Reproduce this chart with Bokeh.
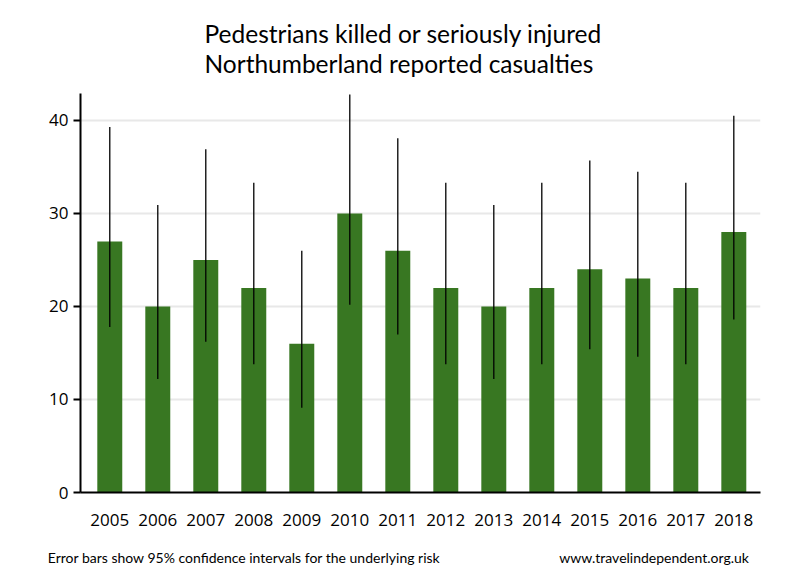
from bokeh.plotting import figure
from bokeh.models import Range1d, FixedTicker, Title, LinearAxis
from bokeh.embed import file_html
from bokeh.resources import INLINE

years = ["2005", "2006", "2007", "2008", "2009", "2010", "2011",
         "2012", "2013", "2014", "2015", "2016", "2017", "2018"]
casualties = [27, 20, 25, 22, 16, 30, 26, 22, 20, 22, 24, 23, 22, 28]
ci_low = [17.8, 12.2, 16.2, 13.8, 9.1, 20.2, 17.0, 13.8, 12.2, 13.8, 15.4, 14.6, 13.8, 18.6]
ci_high = [39.3, 30.9, 36.9, 33.3, 26.0, 42.8, 38.1, 33.3, 30.9, 33.3, 35.7, 34.5, 33.3, 40.5]
y_ticks = [0, 10, 20, 30, 40]

title_lines = ["Pedestrians killed or seriously injured", "Northumberland reported casualties"]
footer_left = "Error bars show 95% confidence intervals for the underlying risk"
footer_right = "www.travelindependent.org.uk"

xs = list(range(len(years)))

p = figure(width=800, height=580, output_backend="svg", toolbar_location=None,
           x_range=Range1d(-0.61, 13.556), y_range=Range1d(0, 42.9),
           min_border_left=80, min_border_right=40, min_border_top=93, min_border_bottom=88)
p.outline_line_color = None
p.background_fill_color = "white"
p.border_fill_color = "white"

p.vbar(x=xs, top=casualties, width=0.52, bottom=0, fill_color="#387722", line_color=None)
p.segment(x0=xs, y0=ci_low, x1=xs, y1=ci_high, line_color="black", line_width=1.3)

# axes
p.xaxis.ticker = FixedTicker(ticks=xs)
p.xaxis.major_label_overrides = {i: y for i, y in enumerate(years)}
p.xaxis.major_tick_line_color = None
p.xaxis.minor_tick_line_color = None
p.xaxis.axis_line_width = 2
p.xaxis.axis_line_color = "black"
p.xaxis.major_label_standoff = 15
p.xaxis.major_label_text_font = "Open Sans"
p.xaxis.major_label_text_font_size = "17px"
p.xaxis.major_label_text_color = "black"

p.yaxis.ticker = FixedTicker(ticks=y_ticks)
p.yaxis.minor_tick_line_color = None
p.yaxis.axis_line_width = 2
p.yaxis.axis_line_color = "black"
p.yaxis.major_tick_line_width = 2
p.yaxis.major_tick_out = 7
p.yaxis.major_tick_in = 0
p.yaxis.major_label_standoff = 5
p.yaxis.major_label_text_font = "Open Sans"
p.yaxis.major_label_text_font_size = "17px"
p.yaxis.major_label_text_color = "black"

p.xgrid.grid_line_color = None
p.ygrid.grid_line_color = "#e8e8e8"
p.ygrid.grid_line_width = 2

# footer: an extra, line-less axis below carrying the two notes
footer_axis = LinearAxis(ticker=FixedTicker(ticks=[2.8, 11.34]),
                         major_label_overrides={2.8: footer_left, 11.34: footer_right},
                         axis_line_color=None, major_tick_line_color=None,
                         minor_tick_line_color=None, major_tick_out=0, major_tick_in=0,
                         major_label_standoff=20,
                         major_label_text_font="Lato", major_label_text_font_size="14px",
                         major_label_text_color="black")
p.add_layout(footer_axis, "below")

# two-line title
p.add_layout(Title(text=title_lines[0] + "\n" + title_lines[1], align="left", offset=124,
                   standoff=31, text_line_height=1.03,
                   text_font="Lato", text_font_size="24.5px", text_font_style="normal",
                   text_color="black"), "above")

open("out.html", "w").write(file_html(p, INLINE))
